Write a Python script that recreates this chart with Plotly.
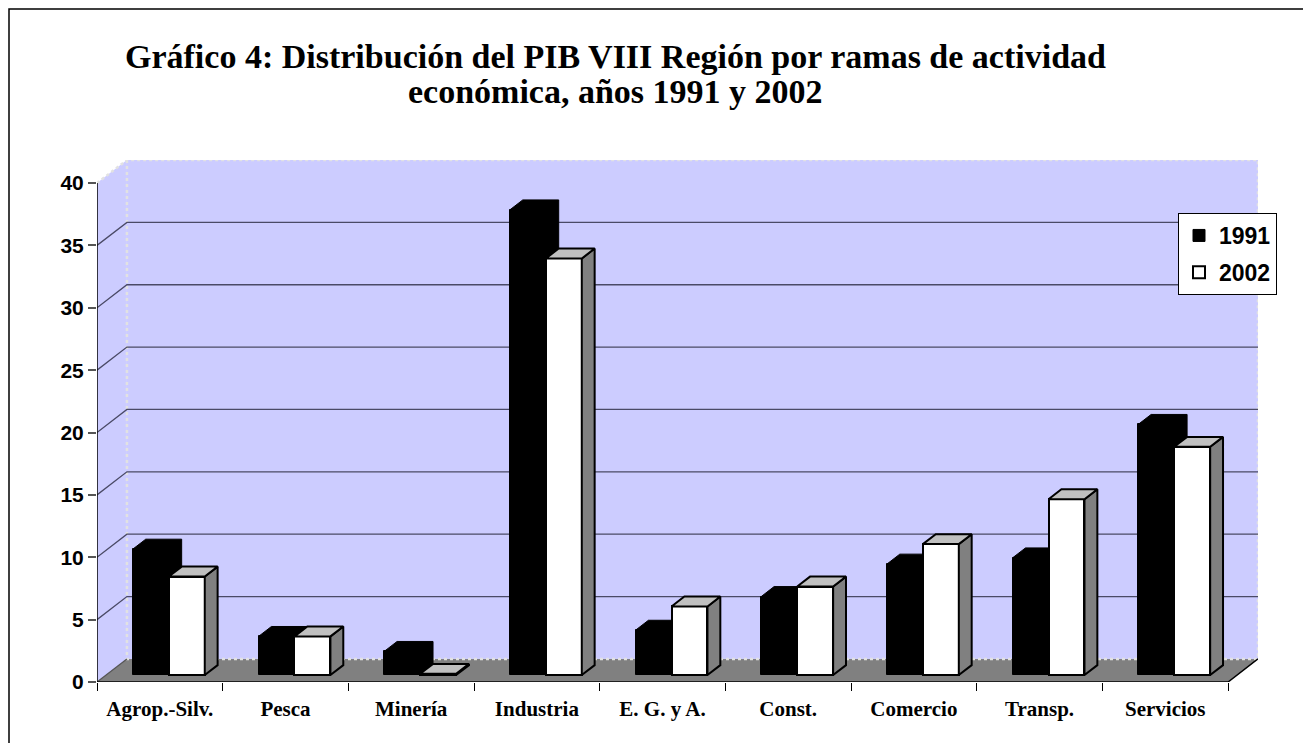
import plotly.graph_objects as go

categories = ["Agrop.-Silv.", "Pesca", "Minería", "Industria", "E. G. y A.",
              "Const.", "Comercio", "Transp.", "Servicios"]
v1991 = [10.1, 3.1, 1.9, 37.3, 3.6, 6.3, 8.9, 9.4, 20.1]
v2002 = [7.9, 3.1, 0.1, 33.4, 5.5, 7.1, 10.5, 14.1, 18.3]
yticks = [0, 5, 10, 15, 20, 25, 30, 35, 40]
series_names = ["1991", "2002"]

# ---- layout geometry (page pixels; the page body adds an 8px offset) ----
OFF = 8
W_PX, H_PX = 1311 - OFF, 743 - OFF
L, R, T, B = 97 - OFF, 1258 - OFF, 160 - OFF, 682 - OFF

# oblique "3D" projection in data units
DX, DY = 0.238, 1.85      # full depth offset
T0, T1 = 0.30, 0.73       # bar front / back depth fraction
BW = 0.286                # bar width
YMAX = yticks[-1]
n = len(categories)
xl, xr = -0.5, n - 0.5
XR = [xl, xr + DX]
YR = [0, YMAX + DY]


def px2x(px):
    return (px - OFF - L) / (R - L)


def py2y(py):
    return (B - (py - OFF)) / (B - T)


fig = go.Figure()


def poly(xs, ys, fill, line_color=None, lw=0, dash=None, yaxis="y"):
    fig.add_trace(go.Scatter(
        x=xs, y=ys, mode="lines", fill="toself" if fill else None,
        fillcolor=fill, yaxis=yaxis,
        line=dict(color=line_color or "rgba(0,0,0,0)", width=lw, dash=dash),
        hoverinfo="skip", showlegend=False))


# side wall
poly([xl, xl, xl + DX, xl + DX, xl], [0, YMAX, YMAX + DY, DY, 0], "#CCCCFF")
# back wall
poly([xl + DX, xr + DX, xr + DX, xl + DX, xl + DX],
     [DY, DY, YMAX + DY, YMAX + DY, DY], "#CCCCFF")
# floor
poly([xl, xr, xr + DX, xl + DX, xl], [0, 0, DY, DY, 0], "#808080")
# light wall borders
poly([xl, xl + DX, xr + DX, xr + DX, None, xl + DX, xl + DX, xr + DX],
     [YMAX, YMAX + DY, YMAX + DY, DY, None, YMAX + DY, DY, DY],
     None, "#E2E2E2", 2.5, "dot")
# gridlines (side diagonals + back wall)
gx, gy = [], []
for t in yticks[1:-1]:
    gx += [xl, xl + DX, xr + DX, None]
    gy += [t, t + DY, t + DY, None]
poly(gx, gy, None, "#4A4A66", 1.3)
# floor left edge
poly([xl, xl + DX], [0, DY], None, "#555555", 1.3)
# front axis lines + floor right edge
poly([xl, xl, None, xl, xr, xr + DX], [YMAX, 0, None, 0, 0, DY], None, "#000000", 1.5)

dxb = (T1 - T0) * DX
dyb = (T1 - T0) * DY
base = T0 * DY
shift = T0 * DX

# ---- 1991 bars (black) ----
x1 = [i - BW / 2 + shift for i in range(n)]
fig.add_trace(go.Bar(
    x=x1, y=v1991, base=base, width=BW, yaxis="y2", name=series_names[0],
    legendgroup="a", marker=dict(color="#000000", line=dict(color="#000000", width=1)),
    hovertemplate="%{y}<extra>1991</extra>"))
px_, py_ = [], []
for xc, v in zip(x1, v1991):
    a, b = xc - BW / 2, xc + BW / 2
    top = base + v
    px_ += [a, a + dxb, b + dxb, b + dxb, b, a, None]
    py_ += [top, top + dyb, top + dyb, base + dyb, base, top, None]
poly(px_, py_, "#000000", "#000000", 1, yaxis="y2")

# ---- 2002 bars (white) ----
x2 = [i + BW / 2 + shift for i in range(n)]
fig.add_trace(go.Bar(
    x=x2, y=v2002, base=base, width=BW, yaxis="y3", name=series_names[1],
    legendgroup="b", marker=dict(color="#FFFFFF", line=dict(color="#000000", width=2)),
    hovertemplate="%{y}<extra>2002</extra>"))
tx, ty, sx, sy = [], [], [], []
for xc, v in zip(x2, v2002):
    a, b = xc - BW / 2, xc + BW / 2
    top = base + v
    tx += [a, a + dxb, b + dxb, b, a, None]
    ty += [top, top + dyb, top + dyb, top, top, None]
    sx += [b, b + dxb, b + dxb, b, b, None]
    sy += [base, base + dyb, top + dyb, top, base, None]
poly(sx, sy, "#808080", "#000000", 2, yaxis="y3")
poly(tx, ty, "#C0C0C0", "#000000", 2, yaxis="y3")

# ---- title as two lines ----
title_font = dict(family="Liberation Serif", size=34, color="#000000", weight="bold")
fig.add_annotation(text="Gráfico 4: Distribución del PIB VIII Región por ramas de actividad",
                   xref="paper", yref="paper", x=px2x(615), y=py2y(56),
                   xanchor="center", yanchor="middle", showarrow=False, font=title_font)
fig.add_annotation(text="económica, años 1991 y 2002",
                   xref="paper", yref="paper", x=px2x(615), y=py2y(91),
                   xanchor="center", yanchor="middle", showarrow=False, font=title_font)

# outer border (bottom edge lies beyond the visible page)
fig.add_shape(type="rect", xref="paper", yref="paper",
              x0=px2x(9), x1=px2x(1308), y0=py2y(770), y1=py2y(9),
              line=dict(color="#000000", width=1.5), fillcolor="rgba(0,0,0,0)")

fig.update_layout(
    width=W_PX, height=H_PX,
    margin=dict(l=L, r=W_PX - R, t=T, b=H_PX - B, pad=0),
    paper_bgcolor="#FFFFFF", plot_bgcolor="#FFFFFF",
    barmode="overlay", bargap=0,
    showlegend=True,
    legend=dict(x=px2x(1178), y=py2y(213), xanchor="left", yanchor="top",
                bgcolor="#FFFFFF", bordercolor="#000000", borderwidth=1,
                font=dict(family="Liberation Sans", size=23, color="#000000", weight="bold"),
                traceorder="grouped", tracegroupgap=4, itemwidth=30),
    xaxis=dict(range=XR, tickmode="array", tickvals=list(range(n)), ticktext=categories,
               ticks="outside", ticklen=8, tickcolor="rgba(0,0,0,0)",
               tickfont=dict(family="Liberation Serif", size=21, color="#000000", weight="bold"),
               minor=dict(tickmode="array", tickvals=[i - 0.5 for i in range(n + 1)],
                          ticks="outside", ticklen=8, tickcolor="#000000", tickwidth=1,
                          showgrid=False),
               showgrid=False, zeroline=False, showline=False, fixedrange=True,
               ticklabelstandoff=0),
    yaxis=dict(range=YR, tickmode="array", tickvals=yticks, ticks="outside", ticklen=8,
               tickcolor="#555555", tickwidth=1.5,
               tickfont=dict(family="Liberation Sans", size=21, color="#000000", weight="bold"),
               showgrid=False, zeroline=False, showline=False, fixedrange=True),
    yaxis2=dict(range=YR, overlaying="y", visible=False, fixedrange=True),
    yaxis3=dict(range=YR, overlaying="y", visible=False, fixedrange=True),
)

fig.write_html("out.html")
